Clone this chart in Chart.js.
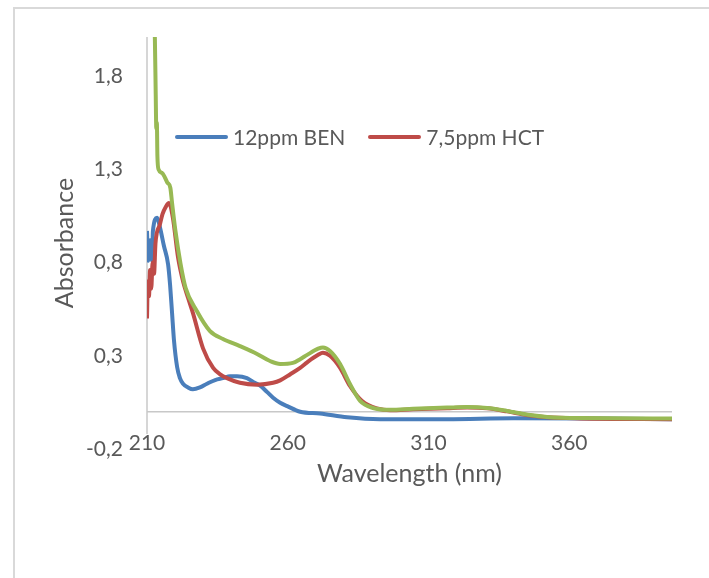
<!DOCTYPE html>
<html>
<head>
<meta charset="utf-8">
<title>Absorbance spectra</title>
<script src="https://cdn.jsdelivr.net/npm/chart.js@4.4.1/dist/chart.umd.min.js"></script>
<style>
  html, body { margin: 0; padding: 0; background: #fff; }
  #wrap { position: relative; width: 709px; height: 578px; overflow: hidden; }
  #frame { position: absolute; left: 13px; top: 7px; width: 720px; height: 600px;
           border-left: 2px solid #d9d9d9; border-top: 2px solid #d9d9d9; }
  canvas { position: absolute; left: 0; top: 0; }
  #legend { position: absolute; left: 175px; top: 124px; display: flex; align-items: center;
            font: 21px Lato, sans-serif; line-height: 25px; color: #595959; white-space: nowrap; }
  .item { display: flex; align-items: center; margin-right: 23px; }
  .swatch { width: 53px; height: 4px; border-radius: 2px; margin-right: 5px; }
</style>
</head>
<body>
<div id="wrap">
  <div id="frame"></div>
  <canvas id="myChart" width="709" height="578"></canvas>
  <div id="legend"></div>
</div>
<script>
// wavelength (nm) / absorbance
const benX = [210.0, 210.4, 211.1, 211.8, 212.1, 213.6, 214.6, 216.0, 217.5, 218.2, 218.9, 219.6, 220.7, 221.7, 222.8, 224.6, 226.3, 228.8, 231.3, 234.2, 237.0, 239.5, 242.0, 245.5, 247.7, 250.2, 252.7, 254.8, 257.3, 259.8, 264.4, 271.5, 281.1, 292.8, 316.6, 340.1, 371.0, 396.5];
const benY = [0.97, 0.81, 0.92, 0.81, 0.97, 1.04, 0.99, 0.89, 0.79, 0.68, 0.53, 0.38, 0.24, 0.18, 0.15, 0.13, 0.12, 0.13, 0.15, 0.17, 0.18, 0.19, 0.19, 0.18, 0.16, 0.14, 0.105, 0.075, 0.048, 0.03, 0.00, -0.01, -0.03, -0.04, -0.04, -0.035, -0.037, -0.04];

const hctX = [210.0, 210.3, 210.7, 211.1, 211.5, 212.0, 212.5, 213.0, 213.5, 214.5, 215.5, 216.7, 217.8, 219.2, 221.0, 222.8, 224.6, 226.3, 229.9, 233.5, 236.0, 238.4, 243.0, 249.1, 254.8, 257.3, 260.8, 264.4, 266.9, 270.8, 272.5, 275.0, 278.6, 282.1, 286.4, 291.7, 296.4, 304.5, 316.6, 323.7, 330.8, 337.9, 340.1, 346.1, 352.1, 363.9, 396.5];
const hctY = [0.50, 0.70, 0.62, 0.76, 0.66, 0.80, 0.74, 0.90, 0.96, 1.00, 1.06, 1.10, 1.12, 1.04, 0.83, 0.70, 0.61, 0.53, 0.34, 0.235, 0.20, 0.18, 0.155, 0.145, 0.155, 0.168, 0.20, 0.235, 0.265, 0.305, 0.316, 0.30, 0.235, 0.138, 0.058, 0.018, 0.008, 0.013, 0.019, 0.022, 0.018, 0.002, -0.004, -0.02, -0.03, -0.036, -0.04];

// third trace (not in the legend)
const mixX = [212.1, 212.8, 213.1, 213.3, 213.5, 213.7, 214.1, 215.4, 217.2, 218.3, 218.9, 220.1, 221.9, 223.7, 227.7, 232.3, 237.0, 243.0, 249.1, 253.7, 257.3, 261.8, 264.4, 266.9, 270.8, 272.5, 275.0, 278.6, 282.1, 285.7, 290.3, 296.4, 304.5, 316.6, 323.7, 330.8, 337.9, 340.1, 346.1, 352.1, 363.9, 396.5];
const mixY = [2.30, 2.00, 1.70, 1.52, 1.55, 1.37, 1.30, 1.28, 1.23, 1.20, 1.12, 0.97, 0.795, 0.665, 0.54, 0.434, 0.39, 0.352, 0.31, 0.272, 0.256, 0.262, 0.282, 0.305, 0.338, 0.345, 0.326, 0.256, 0.149, 0.058, 0.02, 0.01, 0.016, 0.022, 0.025, 0.02, 0.004, -0.002, -0.018, -0.028, -0.034, -0.036];

// tick labels
const xTicks = [210, 260, 310, 360];
const yTicks = [-0.2, 0.3, 0.8, 1.3, 1.8];

const textColor = '#595959';
const axisColor = '#c8c8c8';
const axisLineBottom = -0.12; // the value axis stops short of the plot bottom

function toPoints(xs, ys) {
  return xs.map((x, i) => ({ x: x, y: ys[i] }));
}

// vertical value-axis line at the first wavelength
const axisLine = {
  id: 'axisLine',
  beforeDatasetsDraw(chart) {
    const { ctx, scales: { x, y } } = chart;
    const px = x.getPixelForValue(x.min);
    ctx.save();
    ctx.strokeStyle = axisColor;
    ctx.lineWidth = 1.5;
    ctx.beginPath();
    ctx.moveTo(px, y.getPixelForValue(y.max));
    ctx.lineTo(px, y.getPixelForValue(axisLineBottom));
    ctx.stroke();
    ctx.restore();
  }
};

const tickFont = { family: 'Lato', size: 21 };
const titleFont = { family: 'Lato', size: 25 };

const chart = new Chart(document.getElementById('myChart'), {
  type: 'line',
  data: {
    datasets: [
      { label: '12ppm BEN', data: toPoints(benX, benY), borderColor: '#4A7EBB', order: 3 },
      { label: '7,5ppm HCT', data: toPoints(hctX, hctY), borderColor: '#BE4B48', order: 2 },
      { label: '', data: toPoints(mixX, mixY), borderColor: '#98B954', order: 1 }
    ]
  },
  options: {
    responsive: false,
    animation: false,
    devicePixelRatio: 1,
    events: [],
    layout: { padding: { left: 50, right: 37, top: 37, bottom: 89 } },
    elements: {
      line: { borderWidth: 4, cubicInterpolationMode: 'monotone', fill: false },
      point: { radius: 0 }
    },
    plugins: {
      legend: { display: false },
      tooltip: { enabled: false }
    },
    scales: {
      x: {
        type: 'linear',
        min: 210,
        max: 396.5,
        afterBuildTicks: s => { s.ticks = xTicks.map(v => ({ value: v })); },
        afterFit: s => { s.height = 40; },
        grid: { display: false, drawTicks: false },
        border: { display: false },
        // mirrored so the labels may sit slightly above the plot bottom without being clipped
        ticks: { mirror: true, padding: -7, color: textColor, font: tickFont, maxRotation: 0, autoSkip: false },
        title: { display: true, text: 'Wavelength (nm)', color: textColor, font: titleFont, padding: 0 }
      },
      y: {
        type: 'linear',
        min: -0.2,
        max: 2.01,
        afterBuildTicks: s => { s.ticks = yTicks.concat([0]).map(v => ({ value: v })); },
        afterFit: s => { s.width = 97; },
        grid: {
          drawTicks: false,
          lineWidth: 1.5,
          color: c => (c.tick && c.tick.value === 0) ? axisColor : 'rgba(0,0,0,0)'
        },
        border: { display: false },
        ticks: {
          padding: 24,
          color: textColor,
          font: tickFont,
          callback: v => v === 0 ? '' : String(v).replace('.', ',')
        },
        title: { display: true, text: 'Absorbance', color: textColor, font: titleFont, padding: 0 }
      }
    }
  },
  plugins: [axisLine]
});

// legend shown inside the plot, only the labelled traces
const legendEl = document.getElementById('legend');
chart.data.datasets.filter(d => d.label).forEach(d => {
  const item = document.createElement('div');
  item.className = 'item';
  const sw = document.createElement('span');
  sw.className = 'swatch';
  sw.style.background = d.borderColor;
  const txt = document.createElement('span');
  txt.textContent = d.label;
  item.appendChild(sw);
  item.appendChild(txt);
  legendEl.appendChild(item);
});
</script>
</body>
</html>
